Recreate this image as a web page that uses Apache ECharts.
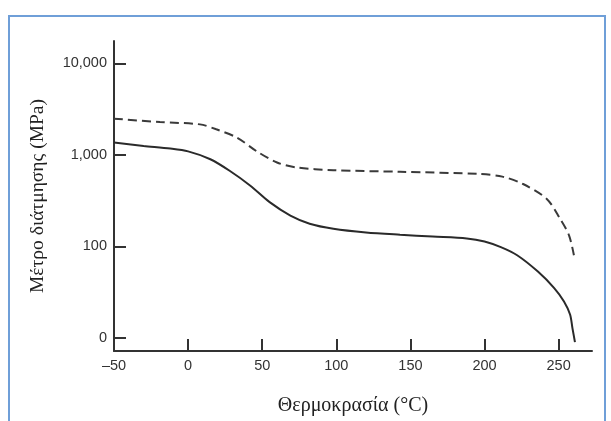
<!DOCTYPE html>
<html>
<head>
<meta charset="utf-8">
<script src="https://cdn.jsdelivr.net/npm/echarts@6/dist/echarts.min.js"></script>
<style>
html,body{margin:0;padding:0;background:#fff;}
#chart{width:611px;height:421px;}
</style>
</head>
<body>
<div id="chart"></div>
<script>
// θερμοκρασία (°C) και μέτρο διάτμησης (MPa)
var tempSolid=[-50,-30,-12,0,15,28,42,55,69,82,98,120,143,165,188,200,211,222,236,247,253.6,257.7,259.3,261]
var modSolid=[1360,1250,1170,1090,895,670,460,304,217,177,156,142,134,128,122,113,98,80,53,35,25,18,12.8,9]
var tempDashed=[-50,-19,8,19,33,46,60,73,98,143,197,212,226,242,251,257,260.3]
var modDashed=[2480,2280,2150,1900,1540,1100,824,728,680,653,617,578,480,330,200,132,80]
var xTicks=[-50,0,50,100,150,200,250]
var yTicks=[10,100,1000,10000]

function pairs(xs,ys){
	var out=[]
	for(var i=0;i<xs.length;i++){out.push([xs[i],ys[i]])}
	return out
}

var mychart=echarts.init(document.getElementById('chart'));
var option={
	backgroundColor:'#fff',
	animation:false,
	graphic:[{
		type:'rect',
		shape:{x:9,y:16,width:596,height:430},
		style:{fill:'none',stroke:'#6f9fd8',lineWidth:2},
		silent:true
	}],
	grid:{left:114,right:19,top:41,bottom:68},
	xAxis:{
		type:'value',
		min:-50,
		max:272.5,
		name:'Θερμοκρασία (°C)',
		nameLocation:'middle',
		nameGap:45,
		nameTextStyle:{fontFamily:'Liberation Serif',fontSize:20,color:'#222'},
		axisLine:{onZero:false,lineStyle:{color:'#333',width:2}},
		axisTick:{inside:true,length:12,customValues:xTicks,lineStyle:{color:'#333',width:2}},
		axisLabel:{
			customValues:xTicks,
			margin:7,
			fontFamily:'Liberation Sans',fontSize:14.5,color:'#333',
			formatter:function(v){return v<0?'\u2013'+Math.abs(v):String(v)}
		},
		splitLine:{show:false}
	},
	yAxis:{
		type:'log',
		logBase:10,
		min:7.2,
		max:17500,
		name:'Μέτρο διάτμησης (MPa)',
		nameLocation:'middle',
		nameGap:66,
		nameRotate:90,
		nameTextStyle:{fontFamily:'Liberation Serif',fontSize:19.5,color:'#222'},
		axisLine:{show:true,onZero:false,lineStyle:{color:'#333',width:2}},
		axisTick:{show:true,inside:true,length:12,customValues:yTicks,lineStyle:{color:'#333',width:2}},
		axisLabel:{
			customValues:yTicks,
			margin:7,
			fontFamily:'Liberation Sans',fontSize:14.5,color:'#333',
			formatter:function(v){return v<=10?'0':Math.round(v).toLocaleString('en-US')}
		},
		splitLine:{show:false}
	},
	series:[{
		type:'line',
		data:pairs(tempSolid,modSolid),
		smooth:0.3,
		showSymbol:false,
		lineStyle:{color:'#2a2a2a',width:2}
	},
	{
		type:'line',
		data:pairs(tempDashed,modDashed),
		smooth:0.3,
		showSymbol:false,
		lineStyle:{color:'#3a3a3a',width:2,type:[9,5]}
	}]
};
mychart.setOption(option);
</script>
</body>
</html>
